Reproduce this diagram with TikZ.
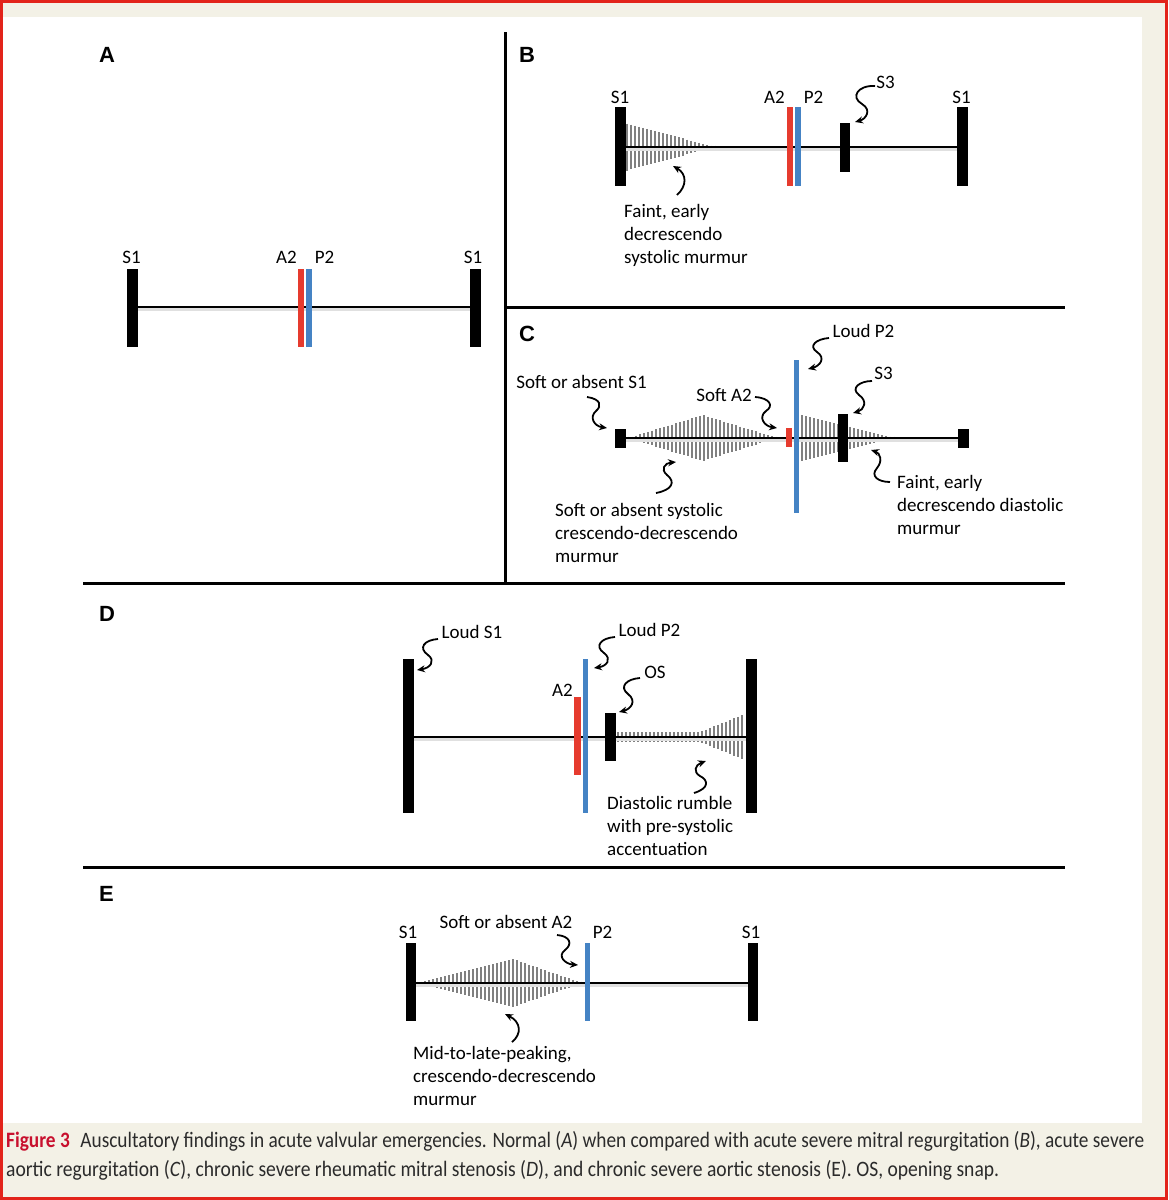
\documentclass[tikz,border=0pt]{standalone}
\usepackage{fontspec}
\usepackage{graphicx}
\setmainfont{Carlito}
\newfontfamily\panelfont{Liberation Sans}
\newfontfamily\capfont{Carlito}
\usetikzlibrary{arrows.meta}
\definecolor{bgbeige}{HTML}{F3F1E6}
\definecolor{framered}{HTML}{E2231A}
\definecolor{aored}{HTML}{E63B2E}
\definecolor{pulblue}{HTML}{4583C4}
\definecolor{figred}{HTML}{C8102E}
\definecolor{captext}{HTML}{2B2B2B}
\definecolor{hatchgray}{HTML}{808080}
\newcommand\capone{{\color{figred}\bfseries Figure 3}\hspace{0.55em}Auscultatory findings in acute valvular emergencies. Normal (\textit{A}) when compared with acute severe mitral regurgitation (\textit{B}), acute severe}
\newcommand\captwo{aortic regurgitation (\textit{C}), chronic severe rheumatic mitral stenosis (\textit{D}), and chronic severe aortic stenosis (E). OS, opening snap.}
\begin{document}
\begin{tikzpicture}[x=1pt,y=-1pt,
  lab/.style={font=\fontsize{19}{23.3}\selectfont, inner sep=0pt, align=left, anchor=base},
  labw/.style={lab, anchor=base west},
  panel/.style={font=\panelfont\bfseries\fontsize{22}{22}\selectfont, inner sep=0pt, anchor=base west},
  divider/.style={line width=3pt, black},
  baseln/.style={line width=2.8pt, black},
  baseshadow/.style={line width=2.6pt, black!12},
  sbar/.style={line width=#1, black},
  sbar/.default=11pt,
  redbar/.style={line width=#1, aored},
  redbar/.default=6pt,
  bluebar/.style={line width=#1, pulblue},
  bluebar/.default=6pt,
  hatchln/.style={line width=1.3pt, hatchgray},
  curly/.style={line width=1.8pt, black, -{Stealth[length=8pt,width=7pt]}}
]
\useasboundingbox (0,0) rectangle (1168,1200);
% background
\fill[bgbeige] (0,0) rectangle (1168,1200);
\fill[white] (3,17) rectangle (1142,1123);
\draw[framered, line width=2.6pt] (1.3,1.3) rectangle (1166.7,1198.7);

% dividers
\draw[divider] (505.5,32) -- (505.5,583);
\draw[divider] (505,307) -- (1065,307);
\draw[divider] (83,583) -- (1065,583);
\draw[divider] (83,867) -- (1065,867);

% panel letters
\node[panel] (pA) at (99,62) {A};
\node[panel] (pB) at (519,62) {B};
\node[panel] (pC) at (519,341) {C};
\node[panel] (pD) at (99,621) {D};
\node[panel] (pE) at (99,901) {E};

% ================= Panel A =================
\draw[baseshadow] (132,309.5) -- (475,309.5);
\draw[baseln] (132,307) -- (475,307);
\draw[sbar] (132.5,269) -- (132.5,347);
\draw[sbar] (475,269) -- (475,347);
\draw[redbar] (301.2,269) -- (301.2,347);
\draw[bluebar] (308.8,269) -- (308.8,347);
\node[lab] (aS1a) at (131.5,263) {S1};
\node[lab] (aA2) at (286.5,263) {A2};
\node[lab] (aP2) at (324.5,263) {P2};
\node[lab] (aS1b) at (473,263) {S1};

% ================= Panel B =================
\foreach \xx in {627,631,...,715}{
  \pgfmathsetmacro\aa{max(1.5,23.5*(715-\xx)/88)}
  \draw[hatchln] (\xx,{147-\aa}) -- (\xx,{147+\aa});
}
\draw[baseshadow] (620,149.5) -- (963,149.5);
\draw[baseln] (620,147) -- (963,147);
\draw[sbar] (620.5,107) -- (620.5,186);
\draw[sbar] (962.5,107) -- (962.5,186);
\draw[redbar] (790,107) -- (790,186);
\draw[bluebar] (797.5,107) -- (797.5,186);
\draw[sbar=10pt] (845,123) -- (845,172);
\node[lab] (bS1a) at (620,103) {S1};
\node[lab] (bA2) at (774.5,103) {A2};
\node[lab] (bP2) at (813.5,103) {P2};
\node[lab] (bS3) at (885.5,88) {S3};
\node[lab] (bS1b) at (961.5,103) {S1};
\node[labw] (bMur) at (624,263.6) {Faint, early\\decrescendo\\systolic murmur};
\coordinate (bS3s) at (875,86);
\coordinate (bS3e) at (855,122);
\draw[curly] (bS3s) .. controls (858,85) and (850,97) .. (862,104) .. controls (872,110) and (866,119) .. (bS3e);
\coordinate (bMs) at (677,195);
\coordinate (bMe) at (673,166);
\draw[curly] (bMs) .. controls (687,186) and (687,174) .. (bMe);

% ================= Panel C =================
\foreach \xx in {628,632,...,777}{
  \pgfmathsetmacro\aa{max(1.5, \xx<703 ? 23*(\xx-628)/75 : 23*(777-\xx)/74)}
  \draw[hatchln] (\xx,{438-\aa}) -- (\xx,{438+\aa});
}
\foreach \xx in {802,806,...,895}{
  \pgfmathsetmacro\aa{max(1.5,23*(895-\xx)/94)}
  \draw[hatchln] (\xx,{438-\aa}) -- (\xx,{438+\aa});
}
\draw[baseshadow] (620,440.5) -- (964,440.5);
\draw[baseln] (620,438) -- (964,438);
\draw[sbar] (620.5,429) -- (620.5,448);
\draw[sbar] (963.5,429) -- (963.5,448);
\draw[redbar] (789,428) -- (789,447);
\draw[bluebar=5.5pt] (796.5,360) -- (796.5,513);
\draw[sbar=10pt] (843,414) -- (843,462);
\node[lab] (cP2) at (863.5,337) {Loud P2};
\node[lab] (cS3) at (883.5,379) {S3};
\node[lab] (cS1) at (581.5,388) {Soft or absent S1};
\node[lab] (cA2) at (724,401) {Soft A2};
\node[labw] (cSys) at (555,562.6) {Soft or absent systolic\\crescendo-decrescendo\\murmur};
\node[labw] (cDia) at (897,534.6) {Faint, early\\decrescendo diastolic\\murmur};
\coordinate (cS1s) at (587,397);
\coordinate (cS1e) at (607,428);
\draw[curly] (cS1s) .. controls (601,399) and (602,406) .. (596,411) .. controls (589,417) and (594,426) .. (cS1e);
\coordinate (cA2s) at (755,397);
\coordinate (cA2e) at (777,428);
\draw[curly] (cA2s) .. controls (770,398) and (774,406) .. (766,411) .. controls (758,417) and (764,426) .. (cA2e);
\coordinate (cP2s) at (829,338);
\coordinate (cP2e) at (808,369);
\draw[curly] (cP2s) .. controls (816,339) and (808,346) .. (817,352) .. controls (826,358) and (820,366) .. (cP2e);
\coordinate (cS3s) at (872,381);
\coordinate (cS3e) at (853,413);
\draw[curly] (cS3s) .. controls (860,381) and (850,388) .. (859,395) .. controls (868,401) and (864,410) .. (cS3e);
\coordinate (cSyss) at (656,493);
\coordinate (cSyse) at (676,462);
\draw[curly] (cSyss) .. controls (672,490) and (676,482) .. (667,475) .. controls (660,469) and (665,463) .. (cSyse);
\coordinate (cDias) at (890,482);
\coordinate (cDiae) at (871,450);
\draw[curly] (cDias) .. controls (878,482) and (870,476) .. (877,468) .. controls (883,461) and (880,453) .. (cDiae);

% ================= Panel D =================
\foreach \xx in {618,622,...,745}{
  \pgfmathsetmacro\aa{\xx<700 ? 5 : 5+18*(\xx-700)/45}
  \draw[hatchln] (\xx,{737-\aa}) -- (\xx,{737+\aa});
}
\draw[baseshadow] (408,739.5) -- (752,739.5);
\draw[baseln] (408,737) -- (752,737);
\draw[sbar] (408.5,659) -- (408.5,813);
\draw[sbar] (751.5,659) -- (751.5,813);
\draw[redbar=7pt] (577.5,697) -- (577.5,775);
\draw[bluebar=5.5pt] (585.5,659) -- (585.5,813);
\draw[sbar] (610.5,713) -- (610.5,761);
\node[lab] (dS1) at (472,638) {Loud S1};
\node[lab] (dP2) at (649.5,636) {Loud P2};
\node[lab] (dOS) at (655,678) {OS};
\node[lab] (dA2) at (562.5,696) {A2};
\node[labw] (dMur) at (607,855.6) {Diastolic rumble\\with pre-systolic\\accentuation};
\coordinate (dS1s) at (438,639);
\coordinate (dS1e) at (417,670);
\draw[curly] (dS1s) .. controls (424,640) and (418,648) .. (428,655) .. controls (436,661) and (430,668) .. (dS1e);
\coordinate (dP2s) at (615,637);
\coordinate (dP2e) at (594,668);
\draw[curly] (dP2s) .. controls (601,638) and (594,646) .. (604,653) .. controls (612,659) and (607,666) .. (dP2e);
\coordinate (dOSs) at (640,678);
\coordinate (dOSe) at (619,712);
\draw[curly] (dOSs) .. controls (626,679) and (619,687) .. (628,694) .. controls (637,701) and (631,709) .. (dOSe);
\coordinate (dMs) at (694,793);
\coordinate (dMe) at (706,761);
\draw[curly] (dMs) .. controls (710,788) and (708,780) .. (700,776) .. controls (693,772) and (695,765) .. (dMe);

% ================= Panel E =================
\foreach \xx in {417,421,...,582}{
  \pgfmathsetmacro\aa{max(1.5, \xx<513 ? 24*(\xx-417)/96 : 24*(582-\xx)/69)}
  \draw[hatchln] (\xx,{983-\aa}) -- (\xx,{983+\aa});
}
\draw[baseshadow] (411,985.5) -- (753,985.5);
\draw[baseln] (411,983) -- (753,983);
\draw[sbar=10pt] (411,943) -- (411,1021);
\draw[sbar=10pt] (753,943) -- (753,1021);
\draw[bluebar=5pt] (587,943) -- (587,1021);
\node[lab] (eS1a) at (408,938) {S1};
\node[lab] (eA2) at (506,928) {Soft or absent A2};
\node[lab] (eP2) at (602.5,938) {P2};
\node[lab] (eS1b) at (751,938) {S1};
\node[labw] (eMur) at (413,1105.6) {Mid-to-late-peaking,\\crescendo-decrescendo\\murmur};
\coordinate (eA2s) at (557,935);
\coordinate (eA2e) at (578,965);
\draw[curly] (eA2s) .. controls (570,936) and (573,944) .. (565,950) .. controls (557,956) and (565,964) .. (eA2e);
\coordinate (eMs) at (512,1042);
\coordinate (eMe) at (505,1014);
\draw[curly] (eMs) .. controls (522,1034) and (521,1022) .. (eMe);

% ================= Caption =================
\node[anchor=base west, inner sep=0pt, text=captext] (cap1) at (6,1147)
  {\resizebox{1138pt}{\height}{\capfont\fontsize{22}{26}\selectfont\capone}};
\node[anchor=base west, inner sep=0pt, text=captext] (cap2) at (6,1176)
  {\resizebox{993pt}{\height}{\capfont\fontsize{22}{26}\selectfont\captwo}};
\end{tikzpicture}
\end{document}
